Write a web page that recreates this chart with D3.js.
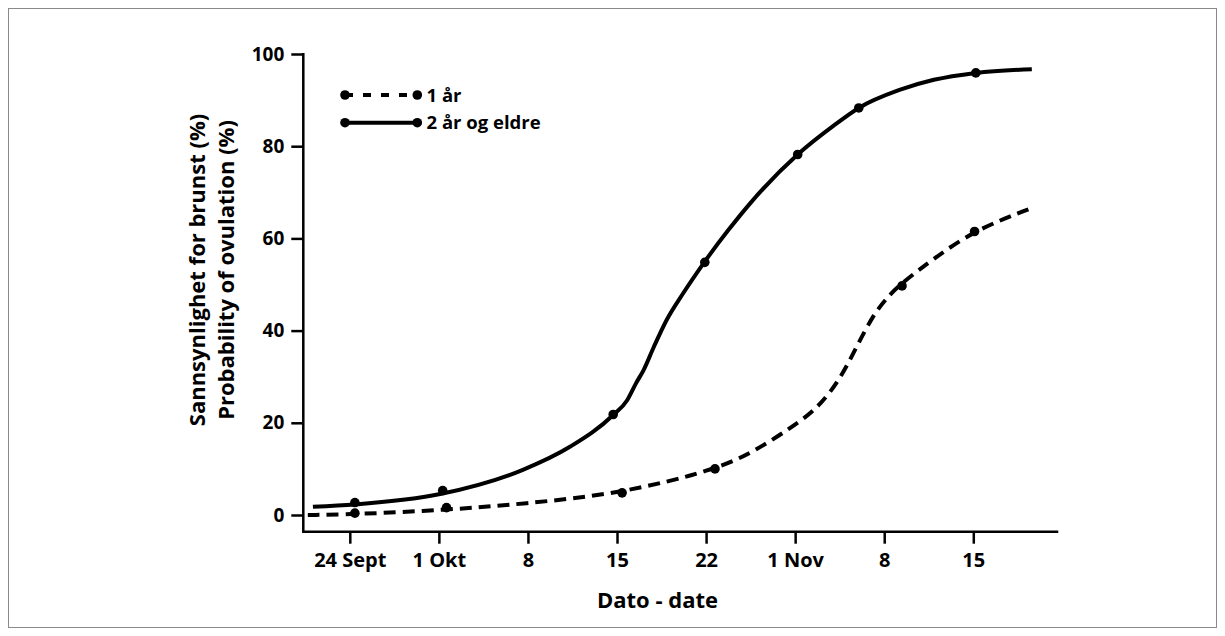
<!DOCTYPE html>
<html>
<head>
<meta charset="utf-8">
<script src="https://cdn.jsdelivr.net/npm/d3@7"></script>
<style>
  html, body { margin: 0; padding: 0; background: #fff; }
  svg text { font-family: "Open Sans", "Noto Sans", sans-serif; font-weight: 700; fill: #000; }
</style>
</head>
<body>
<svg id="chart" width="1225" height="636"></svg>
<script>
// ---------- DATA ----------
// x values are days after 24 September
const tickLabels = ["24 Sept", "1 Okt", "8", "15", "22", "1 Nov", "8", "15"];
const tickDays = [0, 7, 14, 21, 28, 38, 45, 52];
const yTicks = [0, 20, 40, 60, 80, 100];
const seriesNames = ["1 år", "2 år og eldre"];
const xTitle = "Dato - date";
const yTitleLines = ["Sannsynlighet for brunst (%)", "Probability of ovulation (%)"];

// fitted curve, 1 år (dashed)
const curve1Days   = [-3.3, 0.4, 7.6, 13.6, 21.4, 29.0, 33.5, 38.6, 40.0, 41.5, 42.8, 44.1, 45.3, 46.4, 48.9, 52.1, 56.6];
const curve1Values = [0.0, 0.15, 1.1, 2.4, 4.7, 9.8, 13.8, 20.6, 24.0, 29.3, 36.3, 43.3, 47.4, 50.4, 55.6, 61.8, 66.6];
// observed points, 1 år
const obs1Days   = [0.4, 7.6, 21.4, 29.0, 46.4, 52.1];
const obs1Values = [0.4, 1.6, 4.8, 10.0, 49.7, 61.5];

// fitted curve, 2 år og eldre (solid)
const curve2Days   = [-2.9, 0.4, 7.2, 13.6, 17.3, 20.7, 21.8, 22.5, 23.1, 23.9, 24.9, 26.2, 27.8, 30.5, 32.9, 38.2, 41.0, 43.0, 46.2, 48.9, 52.2, 56.6];
const curve2Values = [1.8, 2.3, 4.6, 9.8, 14.8, 21.7, 24.9, 28.6, 31.5, 36.5, 42.3, 48.1, 54.6, 61.8, 67.5, 78.2, 84.4, 88.3, 92.2, 94.4, 95.9, 96.7];
// observed points, 2 år og eldre
const obs2Days   = [0.4, 7.3, 20.7, 27.9, 38.2, 43.0, 52.2];
const obs2Values = [2.7, 5.3, 21.8, 54.8, 78.2, 88.3, 95.9];

// ---------- LAYOUT ----------
const svg = d3.select("#chart");
const AX_LEFT = 303.3, AX_RIGHT = 1058.3, AX_BOTTOM = 531.7;
const FIRST_TICK = 349.8, TICK_STEP = 89.07;
const Y_BOTTOM = 515, Y_TOP = 54;

// frame
svg.append("rect")
  .attr("x", 8.5).attr("y", 8.5).attr("width", 1208).attr("height", 619)
  .attr("fill", "none").attr("stroke", "#8a8a8a").attr("stroke-width", 1);

// scales: ticks equally spaced (weekly marks as drawn in the original)
const x = d3.scaleLinear()
  .domain(tickDays)
  .range(tickDays.map((d, i) => FIRST_TICK + i * TICK_STEP));
const y = d3.scaleLinear().domain([0, 100]).range([Y_BOTTOM, Y_TOP]);

// axes
const xAxis = d3.axisBottom(x)
  .tickValues(tickDays)
  .tickFormat((d, i) => tickLabels[i])
  .tickSize(12)
  .tickPadding(6);
const gx = svg.append("g").attr("transform", `translate(0,${AX_BOTTOM})`).call(xAxis);
gx.select(".domain").remove();
gx.selectAll(".tick line").attr("stroke", "#000").attr("stroke-width", 2.5);
gx.selectAll(".tick text")
  .attr("font-size", 20)
  .attr("fill", "#000")
  .attr("dy", null)
  .attr("y", 35.5);

const yAxis = d3.axisLeft(y).tickValues(yTicks).tickSize(12).tickPadding(7);
const gy = svg.append("g").attr("transform", `translate(${AX_LEFT},0)`).call(yAxis);
gy.select(".domain").remove();
gy.selectAll(".tick line").attr("stroke", "#000").attr("stroke-width", 2.5);
gy.selectAll(".tick text").attr("font-size", 19).attr("fill", "#000");

// axis lines
svg.append("path")
  .attr("d", `M${AX_LEFT},${Y_TOP - 1}V${AX_BOTTOM}H${AX_RIGHT}`)
  .attr("fill", "none").attr("stroke", "#000").attr("stroke-width", 2.5)
  .attr("stroke-linejoin", "miter");

// axis titles
svg.append("text")
  .attr("x", 657.5).attr("y", 607.5)
  .attr("text-anchor", "middle").attr("font-size", 22)
  .text(xTitle);

yTitleLines.forEach((t, i) => {
  svg.append("text")
    .attr("transform", `translate(${205 + i * 29},270) rotate(-90)`)
    .attr("text-anchor", "middle").attr("font-size", 22)
    .text(t);
});

// curves
const lineSolid = d3.line().x(d => x(d[0])).y(d => y(d[1])).curve(d3.curveMonotoneX);
const lineDashed = d3.line().x(d => x(d[0])).y(d => y(d[1])).curve(d3.curveBasis);
const c1 = curve1Days.map((d, i) => [d, curve1Values[i]]);
const c2 = curve2Days.map((d, i) => [d, curve2Values[i]]);

svg.append("path").datum(c2)
  .attr("d", lineSolid).attr("fill", "none").attr("stroke", "#000")
  .attr("stroke-width", 4);
svg.append("path").datum(c1)
  .attr("d", lineDashed).attr("fill", "none").attr("stroke", "#000")
  .attr("stroke-width", 4).attr("stroke-dasharray", "12,7");

// observed points
const o1 = obs1Days.map((d, i) => [d, obs1Values[i]]);
const o2 = obs2Days.map((d, i) => [d, obs2Values[i]]);
svg.append("g").selectAll("circle").data(o1.concat(o2)).join("circle")
  .attr("cx", d => x(d[0])).attr("cy", d => y(d[1])).attr("r", 4.8)
  .attr("fill", "#000");

// legend
const legend = svg.append("g");
const LEG_X1 = 345, LEG_X2 = 417.3, LEG_Y = 95, LEG_DY = 27.7;
seriesNames.forEach((name, i) => {
  const ly = LEG_Y + i * LEG_DY;
  legend.append("line")
    .attr("x1", LEG_X1).attr("x2", LEG_X2).attr("y1", ly).attr("y2", ly)
    .attr("stroke", "#000").attr("stroke-width", 4)
    .attr("stroke-dasharray", i === 0 ? "8,10" : null);
  legend.append("circle").attr("cx", LEG_X1).attr("cy", ly).attr("r", 4.8).attr("fill", "#000");
  legend.append("circle").attr("cx", LEG_X2).attr("cy", ly).attr("r", 4.8).attr("fill", "#000");
  legend.append("text")
    .attr("x", 426.5).attr("y", ly).attr("dy", "0.36em")
    .attr("font-size", 18.5)
    .text(name);
});
</script>
</body>
</html>
